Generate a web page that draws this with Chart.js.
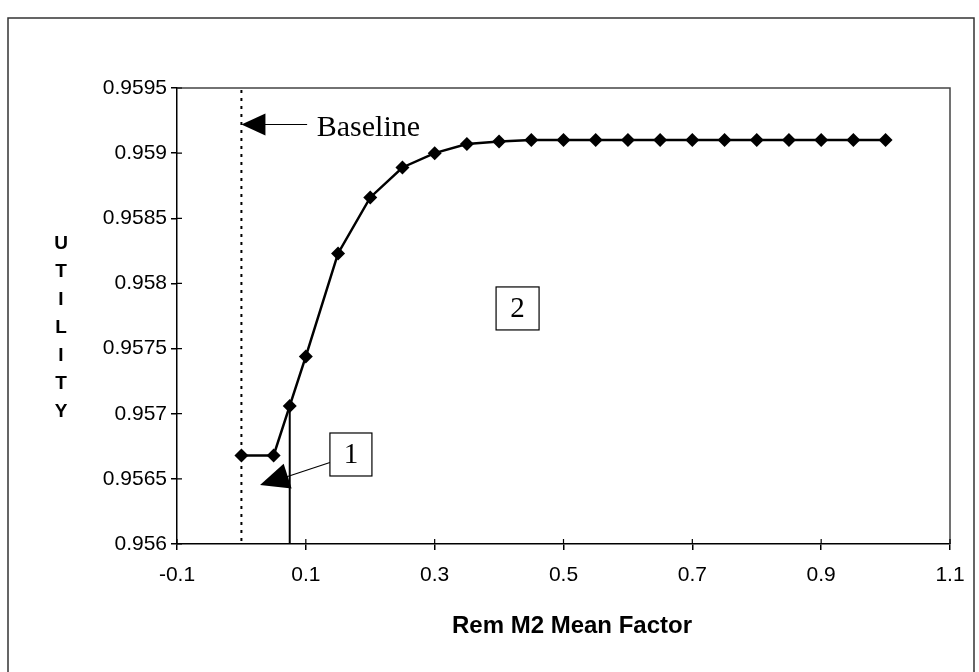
<!DOCTYPE html>
<html>
<head>
<meta charset="utf-8">
<script src="https://cdn.jsdelivr.net/npm/chart.js@4.4.1/dist/chart.umd.min.js"></script>
<style>
  html, body { margin: 0; padding: 0; background: #fff; }
</style>
</head>
<body>
<canvas id="myChart" width="979" height="672"></canvas>
<script>
// data
const factors = [0, 0.05, 0.075, 0.1, 0.15, 0.2, 0.25, 0.3, 0.35, 0.4, 0.45, 0.5, 0.55, 0.6, 0.65, 0.7, 0.75, 0.8, 0.85, 0.9, 0.95, 1.0];
const utility = [0.95668, 0.95668, 0.95706, 0.95744, 0.95823, 0.95866, 0.95889, 0.95900, 0.95907, 0.95909, 0.95910, 0.95910, 0.95910, 0.95910, 0.95910, 0.95910, 0.95910, 0.95910, 0.95910, 0.95910, 0.95910, 0.95910];
const xTicks = [-0.1, 0.1, 0.3, 0.5, 0.7, 0.9, 1.1];
const yTicks = [0.956, 0.9565, 0.957, 0.9575, 0.958, 0.9585, 0.959, 0.9595];
const baselineFactor = 0;
const markedFactor = 0.075;
const xTitle = 'Rem M2 Mean Factor';
const yTitle = 'UTILITY';

const sans = "'Liberation Sans', Arial, sans-serif";
const serif = "'Liberation Serif', 'Times New Roman', serif";

function arrowHead(c, tipX, tipY, fromX, fromY, len, half) {
  const a = Math.atan2(tipY - fromY, tipX - fromX);
  c.beginPath();
  c.moveTo(tipX, tipY);
  c.lineTo(tipX - len * Math.cos(a) + half * Math.sin(a), tipY - len * Math.sin(a) - half * Math.cos(a));
  c.lineTo(tipX - len * Math.cos(a) - half * Math.sin(a), tipY - len * Math.sin(a) + half * Math.cos(a));
  c.closePath();
  c.fill();
}

function textBox(c, cx, cy, w, h, label) {
  c.fillStyle = '#fff';
  c.fillRect(cx - w / 2, cy - h / 2, w, h);
  c.strokeStyle = '#000';
  c.lineWidth = 1.2;
  c.strokeRect(cx - w / 2, cy - h / 2, w, h);
  c.fillStyle = '#000';
  c.font = '29px ' + serif;
  c.textAlign = 'center';
  c.textBaseline = 'middle';
  c.fillText(label, cx, cy + 1);
}

const decor = {
  id: 'decor',
  beforeDatasetsDraw(chart) {
    const c = chart.ctx, x = chart.scales.x, y = chart.scales.y, a = chart.chartArea;
    c.save();
    // outer frame (bottom edge runs off the picture)
    c.strokeStyle = '#333';
    c.lineWidth = 1.5;
    c.beginPath();
    c.moveTo(8, 675);
    c.lineTo(8, 18);
    c.lineTo(974, 18);
    c.lineTo(974, 675);
    c.stroke();
    // plot box top / right
    c.strokeStyle = '#444';
    c.lineWidth = 1.5;
    c.beginPath();
    c.moveTo(a.left, a.top);
    c.lineTo(a.right, a.top);
    c.lineTo(a.right, a.bottom);
    c.stroke();
    // inner halves of the tick marks
    c.strokeStyle = '#000';
    c.lineWidth = 1.2;
    c.beginPath();
    xTicks.forEach(v => { const px = x.getPixelForValue(v); c.moveTo(px, a.bottom); c.lineTo(px, a.bottom - 5); });
    yTicks.forEach(v => { const py = y.getPixelForValue(v); c.moveTo(a.left, py); c.lineTo(a.left + 5, py); });
    c.stroke();
    // baseline dotted line
    const bx = x.getPixelForValue(baselineFactor);
    c.lineWidth = 2;
    c.setLineDash([3, 5]);
    c.beginPath();
    c.moveTo(bx, a.top + 2);
    c.lineTo(bx, a.bottom);
    c.stroke();
    c.setLineDash([]);
    // solid drop line at marked factor
    const mi = factors.indexOf(markedFactor);
    const mx = x.getPixelForValue(markedFactor);
    c.lineWidth = 2;
    c.beginPath();
    c.moveTo(mx, y.getPixelForValue(utility[mi]));
    c.lineTo(mx, a.bottom);
    c.stroke();
    c.restore();
  },
  afterDraw(chart) {
    const c = chart.ctx, x = chart.scales.x, y = chart.scales.y, a = chart.chartArea;
    c.save();
    c.fillStyle = '#000';
    c.strokeStyle = '#000';
    // Baseline arrow
    const bx = x.getPixelForValue(baselineFactor);
    const by = y.getPixelForValue(0.95922);
    const ex = x.getPixelForValue(0.102);
    c.lineWidth = 1.2;
    c.beginPath();
    c.moveTo(bx + 20, by);
    c.lineTo(ex, by);
    c.stroke();
    arrowHead(c, bx, by, ex, by, 24, 11);
    c.font = '30px ' + serif;
    c.textAlign = 'left';
    c.textBaseline = 'middle';
    c.fillText('Baseline', x.getPixelForValue(0.117), by + 4);

    // box 1 with arrow
    const b1x = x.getPixelForValue(0.170), b1y = y.getPixelForValue(0.956687);
    const t1x = x.getPixelForValue(0.0289), t1y = y.getPixelForValue(0.956453);
    c.lineWidth = 1.2;
    c.beginPath();
    c.moveTo(b1x - 21, b1y + 8);
    c.lineTo(t1x + 20, t1y - 6);
    c.stroke();
    arrowHead(c, t1x, t1y, b1x - 21, b1y + 8, 29, 13);
    textBox(c, b1x, b1y, 42, 43, '1');

    // box 2
    textBox(c, x.getPixelForValue(0.4287), y.getPixelForValue(0.957808), 43, 43, '2');

    // axis titles
    c.fillStyle = '#000';
    c.font = 'bold 19px ' + sans;
    c.textAlign = 'center';
    c.textBaseline = 'middle';
    yTitle.split('').forEach((ch, i) => c.fillText(ch, 61, 244 + i * 28));
    c.font = 'bold 24px ' + sans;
    c.fillText(xTitle, 572, 626);
    c.restore();
  }
};

const ctx = document.getElementById('myChart');
new Chart(ctx, {
  type: 'scatter',
  data: {
    datasets: [{
      data: factors.map((f, i) => ({ x: f, y: utility[i] })),
      showLine: true,
      borderColor: '#000',
      borderWidth: 2.5,
      backgroundColor: '#000',
      pointStyle: 'rectRot',
      pointRadius: 7,
      pointBackgroundColor: '#000',
      pointBorderColor: '#000',
      pointBorderWidth: 0
    }]
  },
  options: {
    responsive: false,
    animation: false,
    devicePixelRatio: 1,
    layout: { padding: { top: 88, right: 29, left: 0, bottom: 0 } },
    plugins: { legend: { display: false }, tooltip: { enabled: false } },
    scales: {
      x: {
        type: 'linear',
        min: -0.1,
        max: 1.1,
        afterBuildTicks: s => { s.ticks = xTicks.map(v => ({ value: v })); },
        afterFit: s => { s.height = 128; },
        ticks: {
          color: '#000',
          font: { family: sans, size: 21 },
          padding: 13,
          maxRotation: 0,
          autoSkip: false,
          callback: v => String(v)
        },
        grid: { drawOnChartArea: false, drawTicks: true, tickLength: 6, color: '#000', lineWidth: 1.5 },
        border: { display: true, color: '#000', width: 1.5 }
      },
      y: {
        type: 'linear',
        min: 0.956,
        max: 0.9595,
        afterBuildTicks: s => { s.ticks = yTicks.map(v => ({ value: v })); },
        afterFit: s => { s.width = 177; },
        ticks: {
          color: '#000',
          font: { family: sans, size: 21 },
          padding: 4,
          autoSkip: false,
          callback: v => String(v)
        },
        grid: { drawOnChartArea: false, drawTicks: true, tickLength: 6, color: '#000', lineWidth: 1.5 },
        border: { display: true, color: '#000', width: 1.5 }
      }
    }
  },
  plugins: [decor]
});
</script>
</body>
</html>
